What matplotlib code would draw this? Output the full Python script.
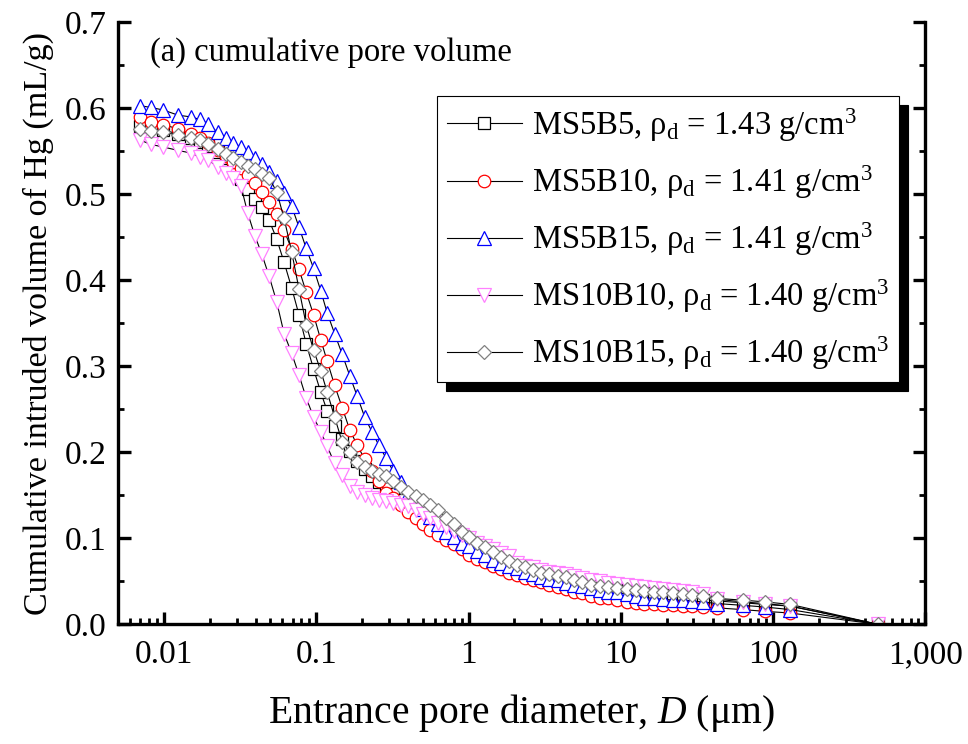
import matplotlib
matplotlib.use("Agg")
import matplotlib.pyplot as plt
from matplotlib.ticker import FixedLocator, FixedFormatter, MultipleLocator, LogLocator, NullFormatter

plt.rcParams['font.family'] = ['Liberation Serif', 'DejaVu Serif']
plt.rcParams['mathtext.fontset'] = 'custom'
plt.rcParams['mathtext.rm'] = 'Liberation Serif'
plt.rcParams['mathtext.it'] = 'Liberation Serif:italic'

# entrance pore diameter (um), shared by all samples
diameter = [0.0070, 0.0082, 0.0099, 0.0124, 0.0150, 0.0173, 0.0195, 0.0225, 0.0255, 0.0285,
            0.0320, 0.0355, 0.0395, 0.0440, 0.0490, 0.0550, 0.0615, 0.0690, 0.0770, 0.0860,
            0.0960, 0.107, 0.118, 0.132, 0.148, 0.166, 0.186, 0.208, 0.232, 0.258,
            0.288, 0.320, 0.360, 0.400, 0.450, 0.500, 0.560, 0.630, 0.710, 0.800,
            0.900, 1.01, 1.14, 1.28, 1.45, 1.63, 1.84, 2.08, 2.35, 2.65,
            3.00, 3.40, 3.85, 4.35, 4.95, 5.60, 6.40, 7.30, 8.30, 9.50,
            10.9, 12.5, 14.3, 16.5, 19.0, 22.0, 25.5, 29.5, 34.5, 43.0,
            63.0, 88.0, 130.0, 485.0]

ms5b5 = [0.580, 0.578, 0.575, 0.570, 0.566, 0.561, 0.556, 0.549, 0.542, 0.530,
         0.518, 0.506, 0.495, 0.485, 0.470, 0.448, 0.421, 0.391, 0.360, 0.326,
         0.297, 0.270, 0.248, 0.231, 0.215, 0.201, 0.190, 0.180, 0.172, 0.165,
         0.158, 0.151, 0.144, 0.137, 0.131, 0.125, 0.119, 0.113, 0.107, 0.102,
         0.097, 0.092, 0.087, 0.082, 0.077, 0.073, 0.070, 0.067, 0.063, 0.060,
         0.057, 0.055, 0.053, 0.050, 0.048, 0.046, 0.044, 0.042, 0.040, 0.039,
         0.037, 0.035, 0.034, 0.032, 0.031, 0.030, 0.030, 0.029, 0.028, 0.027,
         0.025, 0.023, 0.021, 0.0]

ms5b10 = [0.590, 0.584, 0.581, 0.576, 0.570, 0.565, 0.560, 0.552, 0.545, 0.538,
          0.531, 0.522, 0.513, 0.503, 0.491, 0.477, 0.458, 0.436, 0.413, 0.386,
          0.360, 0.331, 0.306, 0.278, 0.252, 0.226, 0.208, 0.192, 0.178, 0.166,
          0.153, 0.147, 0.139, 0.130, 0.124, 0.117, 0.110, 0.104, 0.098, 0.093,
          0.087, 0.081, 0.076, 0.072, 0.068, 0.064, 0.060, 0.057, 0.054, 0.051,
          0.049, 0.046, 0.043, 0.041, 0.038, 0.036, 0.033, 0.031, 0.030, 0.028,
          0.026, 0.025, 0.024, 0.023, 0.022, 0.022, 0.021, 0.021, 0.020, 0.019,
          0.017, 0.015, 0.013, 0.0]

ms5b15 = [0.603, 0.601, 0.598, 0.592, 0.590, 0.587, 0.582, 0.572, 0.566, 0.560,
          0.555, 0.549, 0.542, 0.535, 0.526, 0.515, 0.502, 0.486, 0.462, 0.437,
          0.414, 0.388, 0.362, 0.338, 0.314, 0.289, 0.265, 0.241, 0.224, 0.208,
          0.193, 0.178, 0.165, 0.152, 0.143, 0.134, 0.125, 0.117, 0.107, 0.102,
          0.095, 0.091, 0.085, 0.080, 0.075, 0.071, 0.068, 0.065, 0.061, 0.058,
          0.055, 0.053, 0.051, 0.048, 0.046, 0.044, 0.042, 0.040, 0.038, 0.037,
          0.035, 0.033, 0.031, 0.030, 0.029, 0.028, 0.028, 0.027, 0.026, 0.024,
          0.022, 0.020, 0.017, 0.0]

ms10b10 = [0.563, 0.558, 0.555, 0.551, 0.548, 0.543, 0.540, 0.532, 0.525, 0.519,
           0.510, 0.478, 0.452, 0.430, 0.405, 0.375, 0.338, 0.315, 0.290, 0.263,
           0.241, 0.224, 0.207, 0.187, 0.173, 0.161, 0.154, 0.150, 0.147, 0.145,
           0.143, 0.141, 0.139, 0.137, 0.133, 0.128, 0.123, 0.118, 0.113, 0.108,
           0.104, 0.100, 0.095, 0.091, 0.087, 0.083, 0.079, 0.071, 0.068, 0.066,
           0.063, 0.061, 0.059, 0.058, 0.056, 0.054, 0.052, 0.050, 0.048, 0.047,
           0.046, 0.045, 0.043, 0.042, 0.041, 0.040, 0.039, 0.037, 0.035, 0.029,
           0.026, 0.024, 0.021, 0.0]

ms10b15 = [0.576, 0.574, 0.572, 0.569, 0.566, 0.563, 0.559, 0.553, 0.547, 0.542,
           0.537, 0.533, 0.529, 0.524, 0.519, 0.503, 0.472, 0.433, 0.390, 0.348,
           0.319, 0.295, 0.270, 0.241, 0.212, 0.200, 0.189, 0.183, 0.178, 0.175,
           0.172, 0.166, 0.160, 0.154, 0.149, 0.144, 0.139, 0.133, 0.124, 0.116,
           0.107, 0.101, 0.095, 0.090, 0.084, 0.078, 0.073, 0.069, 0.066, 0.063,
           0.060, 0.058, 0.056, 0.055, 0.052, 0.049, 0.046, 0.045, 0.043, 0.042,
           0.041, 0.040, 0.039, 0.038, 0.037, 0.036, 0.035, 0.034, 0.033, 0.030,
           0.028, 0.026, 0.023, 0.0]

labels = ['MS5B5, ρ$_\\mathrm{d}$ = 1.43 g/cm$^\\mathrm{3}$',
          'MS5B10, ρ$_\\mathrm{d}$ = 1.41 g/cm$^\\mathrm{3}$',
          'MS5B15, ρ$_\\mathrm{d}$ = 1.41 g/cm$^\\mathrm{3}$',
          'MS10B10, ρ$_\\mathrm{d}$ = 1.40 g/cm$^\\mathrm{3}$',
          'MS10B15, ρ$_\\mathrm{d}$ = 1.40 g/cm$^\\mathrm{3}$']

xticks = [0.01, 0.1, 1, 10, 100, 1000]
xticklabels = ['0.01', '0.1', '1', '10', '100', '1,000']

fig = plt.figure(figsize=(9.68, 7.44), dpi=100)
ax = fig.add_axes([0.122, 0.161, 0.834, 0.809])

series = [ms5b5, ms5b10, ms5b15, ms10b10, ms10b15]
markers = ['s', 'o', '^', 'v', 'D']
colors = ['black', 'red', 'blue', '#ff80ff', '#808080']
sizes = [8, 9, 9.5, 9.5, 7.5]
for y, m, c, s, lab in zip(series, markers, colors, sizes, labels):
    ax.plot(diameter, y, color='black', lw=0.8, marker=m, ms=s,
            mfc='white', mec=c, mew=0.9, label=lab)

ax.set_xscale('log')
ax.set_xlim(0.005, 1000)
ax.set_ylim(0, 0.7)
ax.xaxis.set_major_locator(FixedLocator(xticks))
ax.xaxis.set_major_formatter(FixedFormatter(xticklabels))
ax.xaxis.set_minor_locator(LogLocator(base=10, subs=range(2, 10), numticks=20))
ax.xaxis.set_minor_formatter(NullFormatter())
ax.yaxis.set_major_locator(MultipleLocator(0.1))
ax.yaxis.set_minor_locator(MultipleLocator(0.05))
ax.yaxis.set_major_formatter(matplotlib.ticker.FormatStrFormatter('%.1f'))

ax.spines['top'].set_visible(False)
for sp in ['left', 'bottom', 'right']:
    ax.spines[sp].set_linewidth(2.4)
ax.tick_params(which='both', direction='in', top=False, right=True, labelsize=24)
ax.tick_params(axis='x', which='major', pad=11)
ax.tick_params(axis='y', which='major', pad=8)
ax.tick_params(which='major', length=9, width=2.4)
ax.tick_params(which='minor', length=4.5, width=2.0)

ax.set_xlabel('Entrance pore diameter, $\\mathit{D}$ (μm)', fontsize=28.5, labelpad=16)
ax.set_ylabel('Cumulative intruded volume of Hg (mL/g)', fontsize=24.5, labelpad=8)
ax.text(0.04, 0.95, '(a) cumulative pore volume', transform=ax.transAxes,
        fontsize=23.5, va='center', ha='left')

leg = ax.legend(loc='upper right', bbox_to_anchor=(0.967, 0.877), fontsize=23.5,
                frameon=True, fancybox=False, edgecolor='black', framealpha=1,
                shadow={'ox': 6.5, 'oy': -6.5, 'color': 'black', 'alpha': 1},
                handlelength=2.3, handletextpad=0.3, borderpad=0.3,
                labelspacing=0.6, borderaxespad=0)
leg.get_frame().set_linewidth(0.8)

fig.savefig('out.png', dpi=100)
